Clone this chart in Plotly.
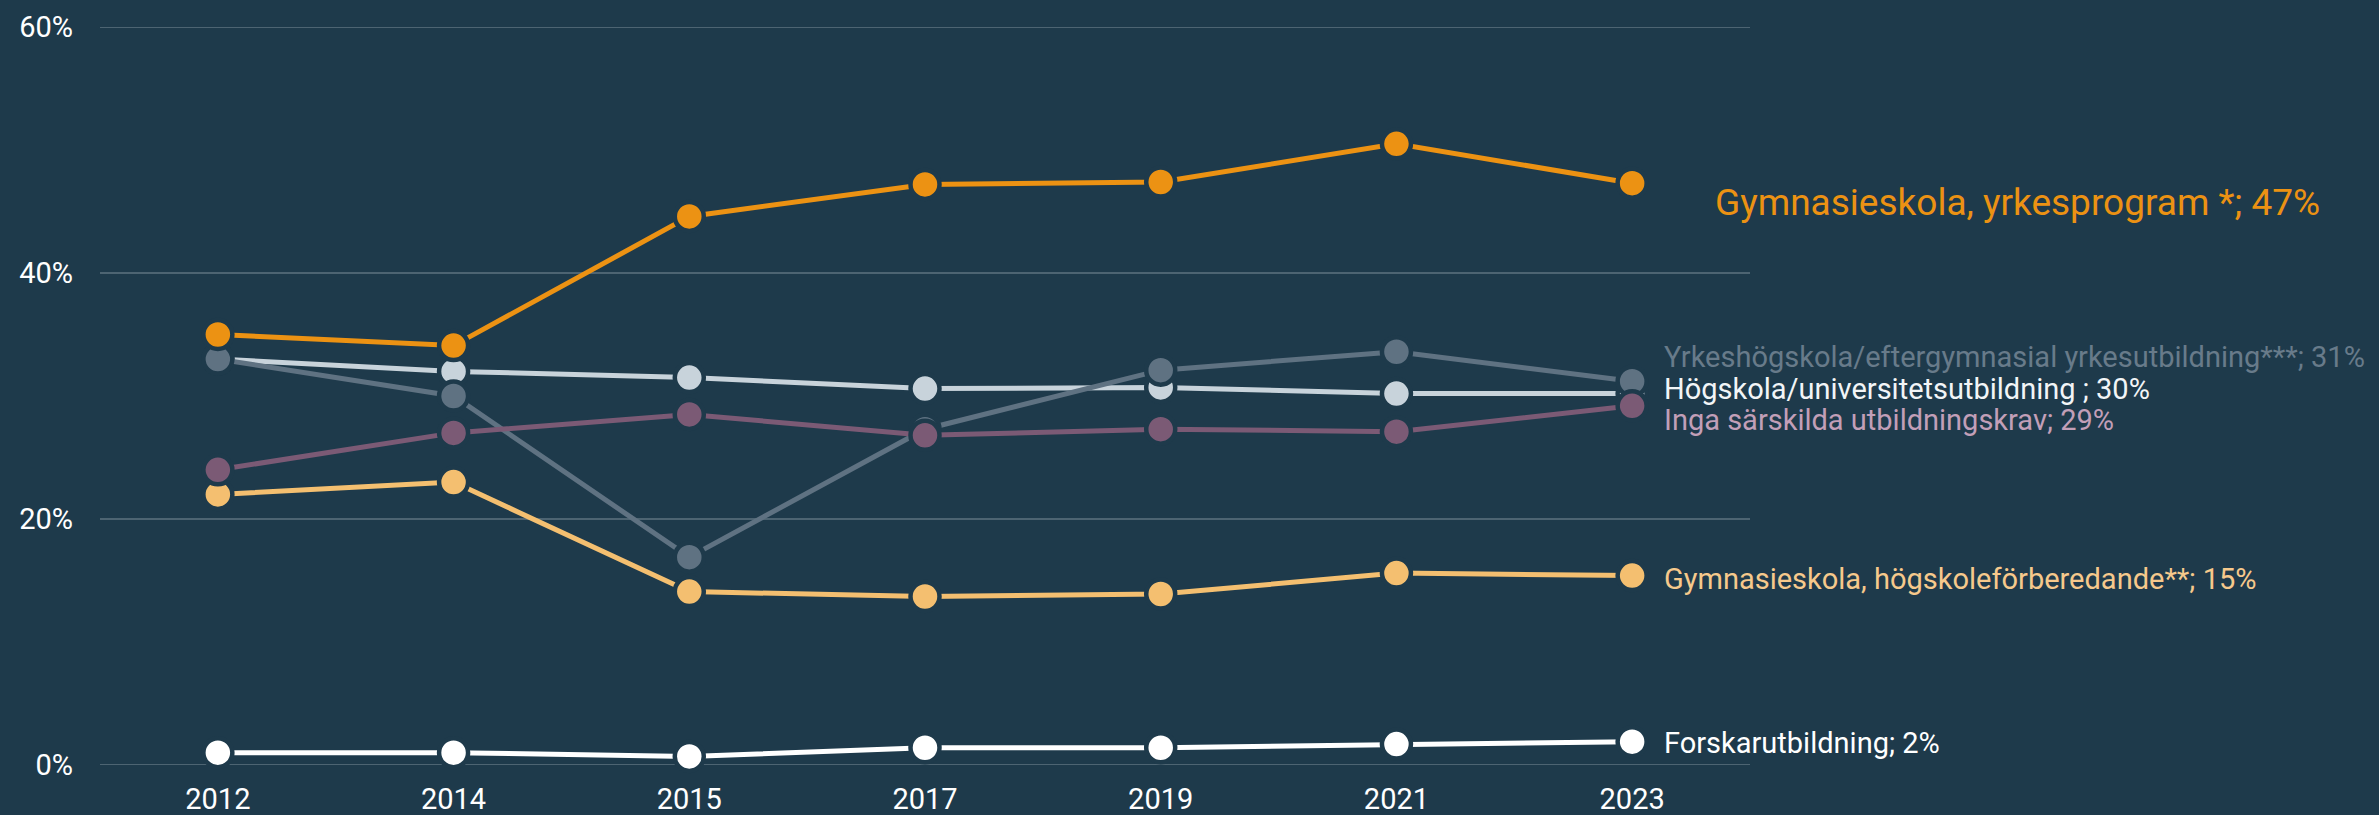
import plotly.graph_objects as go

years = ["2012", "2014", "2015", "2017", "2019", "2021", "2023"]

gym_hf = [22.0, 23.0, 14.1, 13.7, 13.9, 15.6, 15.4]
hogskola = [33.0, 32.0, 31.5, 30.6, 30.7, 30.2, 30.2]
yrkeshog = [33.0, 30.0, 16.9, 27.3, 32.1, 33.6, 31.2]
inga = [24.0, 27.0, 28.5, 26.8, 27.3, 27.1, 29.2]
gym_yrke = [35.0, 34.1, 44.6, 47.2, 47.4, 50.5, 47.3]
forskar = [1.0, 1.0, 0.7, 1.4, 1.4, 1.7, 1.9]

y_ticks = [0, 20, 40, 60]
y_tick_labels = ["0%", "20%", "40%", "60%"]

BG = "#1e3a4b"
GRID = "#4d6472"

# (name, values, line colour, label colour, label text, font size, xshift, yshift)
series = [
    ("Forskarutbildning", forskar, "#ffffff", "#ffffff",
     "Forskarutbildning; 2%", 29, 30, -1),
    ("Gymnasieskola, högskoleförberedande", gym_hf, "#f4bf70", "#f6c98c",
     "Gymnasieskola, högskoleförberedande**; 15%", 29, 30, -3),
    ("Högskola/universitetsutbildning", hogskola, "#c8d3db", "#f2f5f7",
     "Högskola/universitetsutbildning ; 30%", 29, 30, 5),
    ("Yrkeshögskola/eftergymnasial yrkesutbildning", yrkeshog, "#5f7282", "#687b8a",
     "Yrkeshögskola/eftergymnasial yrkesutbildning***; 31%", 29, 30, 24),
    ("Inga särskilda utbildningskrav", inga, "#7b5a75", "#c29fb8",
     "Inga särskilda utbildningskrav; 29%", 29, 30, -14),
    ("Gymnasieskola, yrkesprogram", gym_yrke, "#ec9213", "#ec9213",
     "Gymnasieskola, yrkesprogram *; 47%", 37, 81, -19),
]

fig = go.Figure()
annotations = []
last_idx = len(years) - 1
for name, vals, col, lcol, text, fs, xs, ys in series:
    fig.add_trace(go.Scatter(
        x=years, y=vals, mode="lines+markers", name=name,
        line=dict(color=col, width=5),
        marker=dict(size=29, color=col, line=dict(color=BG, width=4.5)),
        cliponaxis=False, hoverinfo="skip", showlegend=False,
    ))
    annotations.append(dict(
        x=last_idx, y=vals[-1], xref="x", yref="y", text=text,
        showarrow=False, xanchor="left", yanchor="middle",
        xshift=xs, yshift=ys,
        font=dict(family="Roboto", size=fs, color=lcol),
    ))

shapes = [
    dict(type="line", xref="paper", yref="y", x0=0, x1=1, y0=t, y1=t,
         line=dict(color=GRID, width=2), layer="below")
    for t in y_ticks
]

fig.update_layout(
    width=2379, height=815,
    paper_bgcolor=BG, plot_bgcolor=BG,
    margin=dict(l=100, r=629, t=27, b=50),
    annotations=annotations,
    shapes=shapes,
    xaxis=dict(
        type="category", range=[-0.5, 6.5], showgrid=False, zeroline=False,
        showline=False, ticks="", ticklabelstandoff=14, automargin=False,
        tickfont=dict(family="Roboto", size=29, color="#ffffff"),
    ),
    yaxis=dict(
        range=[0, 60], tickvals=y_ticks, ticktext=y_tick_labels,
        showgrid=False, zeroline=False, automargin=False,
        showline=False, ticks="", ticklabelstandoff=26,
        tickfont=dict(family="Roboto", size=29, color="#ffffff"),
    ),
)

fig.write_html(
    "out.html",
    config={"displayModeBar": False},
    post_script="document.body.style.margin='0';document.body.style.background='" + BG + "';",
)
